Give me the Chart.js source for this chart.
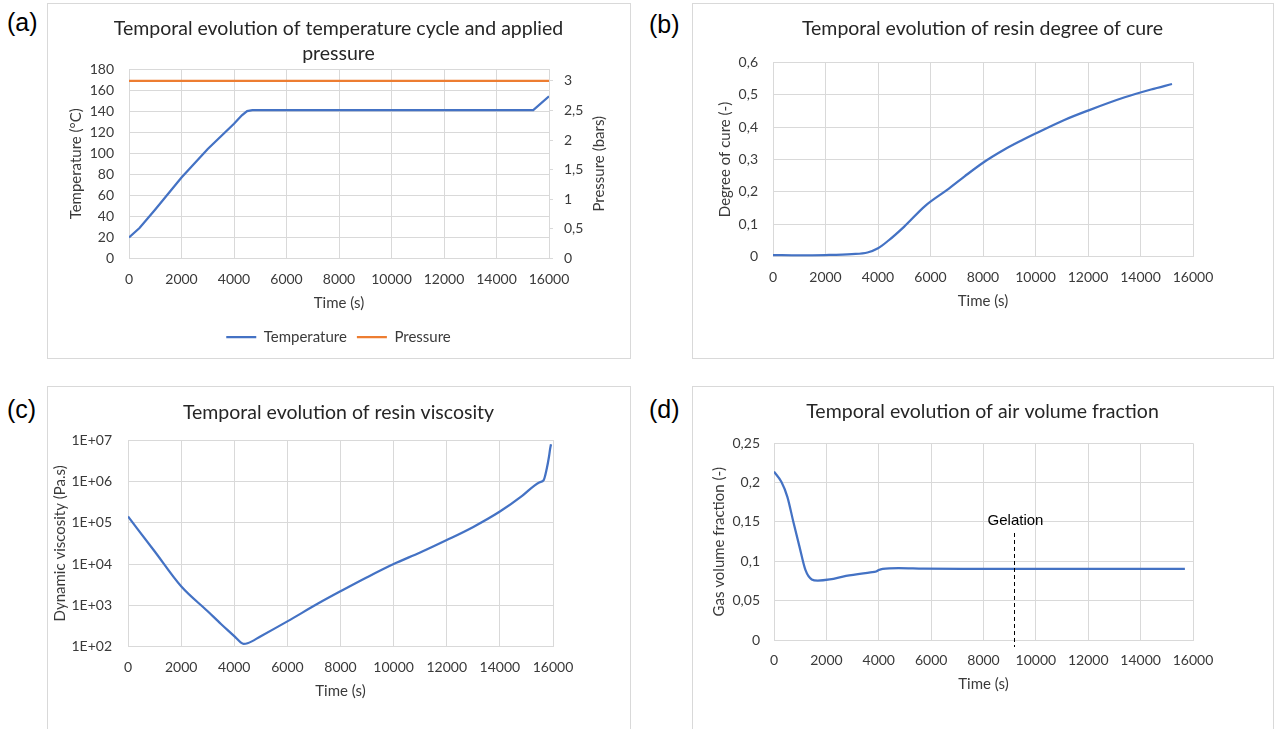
<!DOCTYPE html>
<html>
<head>
<meta charset="utf-8">
<script src="https://cdn.jsdelivr.net/npm/chart.js@4.4.0/dist/chart.umd.min.js"></script>
<style>
    body { margin: 0; width: 1274px; height: 729px; background: #fff; position: relative; overflow: hidden; }
    .frame { position: absolute; border: 1px solid #d9d9d9; box-sizing: border-box; }
    .box { position: absolute; }
    .tag { position: absolute; font: 25px "Liberation Sans", Arial, sans-serif; line-height: 25px; color: #000; }
</style>
</head>
<body>
<div class="frame" style="left:47px;top:3px;width:584px;height:356px"></div>
<div class="frame" style="left:692px;top:3px;width:582px;height:356px"></div>
<div class="frame" style="left:47px;top:386px;width:584px;height:400px"></div>
<div class="frame" style="left:692px;top:386px;width:582px;height:400px"></div>

<div class="tag" style="left:7px;top:10px">(a)</div>
<div class="tag" style="left:649px;top:12px">(b)</div>
<div class="tag" style="left:7px;top:397px">(c)</div>
<div class="tag" style="left:649px;top:397px">(d)</div>

<div class="box" style="left:47px;top:3px;width:583px;height:355px"><canvas id="chartA"></canvas></div>
<div class="box" style="left:692px;top:3px;width:581px;height:355px"><canvas id="chartB"></canvas></div>
<div class="box" style="left:47px;top:386px;width:583px;height:343px"><canvas id="chartC"></canvas></div>
<div class="box" style="left:692px;top:386px;width:581px;height:343px"><canvas id="chartD"></canvas></div>

<script>
// (a) temperature cycle and pressure
const timeTemp = [0, 400, 1000, 2000, 3000, 4000, 4300, 4500, 4700, 15400, 16000];
const temperature = [20, 29, 46.5, 77, 104, 128, 136, 140, 141, 141, 154];
const timePressure = [0, 16000];
const pressure = [3, 3];

// (b) degree of cure
const timeCure = [0, 1000, 2000, 3000, 3600, 4000, 4400, 5000, 5800, 6700, 7300, 8000, 8800, 9500, 10000, 11100, 12000, 13400, 14400, 15200];
const cure = [0.005, 0.004, 0.005, 0.008, 0.013, 0.026, 0.05, 0.093, 0.157, 0.21, 0.248, 0.29, 0.33, 0.36, 0.38, 0.422, 0.451, 0.492, 0.516, 0.533];

// (c) viscosity
const timeVisc = [0, 1000, 2000, 3000, 3500, 4000, 4250, 4350, 4500, 5000, 6000, 7170, 8000, 9000, 10000, 11000, 12000, 13000, 14000, 14850, 15300, 15500, 15650, 15760, 15850, 15890, 15925];
const viscosity = [1.41e5, 2.04e4, 2.9e3, 720, 355, 180, 126, 117, 121, 180, 410, 1120, 2190, 4790, 1.0e4, 1.9e4, 3.8e4, 7.9e4, 1.86e5, 4.5e5, 7.9e5, 9.5e5, 1.07e6, 1.95e6, 4.0e6, 6.0e6, 7.9e6];
const viscosityTicks = [1e2, 1e3, 1e4, 1e5, 1e6, 1e7];

// (d) gas volume fraction
const timeGas = [0, 280, 510, 740, 970, 1200, 1440, 1670, 2130, 2750, 3680, 3900, 4000, 4150, 4760, 5700, 7200, 15690];
const gasFraction = [0.214, 0.201, 0.182, 0.150, 0.119, 0.089, 0.077, 0.0755, 0.077, 0.0815, 0.086, 0.087, 0.089, 0.0905, 0.0915, 0.0907, 0.0903, 0.0903];
const gelationTime = 9170;
const gelationTop = 0.136;

Chart.defaults.font.family = 'Lato, "Open Sans", sans-serif';
Chart.defaults.font.size = 14;
Chart.defaults.color = '#3a3a3a';
Chart.defaults.animation = false;

const BLUE = '#4472C4';
const ORANGE = '#ED7D31';
const GRID = '#d9d9d9';

function toPoints(xs, ys) {
    return xs.map((x, i) => ({ x: x, y: ys[i] }));
}

function commaLabel(v) {
    return String(Number(v.toFixed(2))).replace('.', ',');
}

function expLabel(v) {
    return '1E+' + String(Math.round(Math.log10(v))).padStart(2, '0');
}

function chartTitle(text, padTop, padBottom) {
    return {
        display: true,
        text: text,
        color: '#262626',
        font: { size: 19.5, weight: 'normal', lineHeight: 25 / 19.5 },
        padding: { top: padTop, bottom: padBottom }
    };
}

function timeAxis(height, tickPad, titlePad) {
    return {
        type: 'linear',
        min: 0,
        max: 16000,
        grid: { color: GRID, drawTicks: false },
        border: { color: GRID },
        ticks: { stepSize: 2000, padding: tickPad, maxRotation: 0, autoSkip: false, callback: v => String(v) },
        title: { display: true, text: 'Time (s)', font: { size: 15 }, padding: { top: 0, bottom: titlePad } },
        afterFit: scale => { scale.height = height; }
    };
}

function valueAxis(extra, width, text, titlePad) {
    return Object.assign({
        grid: { color: GRID, drawTicks: false },
        border: { display: false },
        title: { display: true, text: text, font: { size: 15 }, padding: { top: titlePad, bottom: 0 } },
        afterFit: scale => { scale.width = width; }
    }, extra);
}

// empty right-hand strip so the title stays centred on the whole panel
function spacerAxis(width) {
    return {
        position: 'right',
        display: true,
        ticks: { display: false },
        grid: { display: false },
        border: { display: false },
        afterFit: scale => { scale.width = width; }
    };
}

function blueLine(label, points, smooth) {
    return {
        label: label,
        data: points,
        borderColor: BLUE,
        backgroundColor: BLUE,
        borderWidth: 2.25,
        pointRadius: 0,
        tension: 0,
        cubicInterpolationMode: smooth ? 'monotone' : 'default'
    };
}

// right axis title reads bottom-to-top like the left one
const pressureTitle = {
    id: 'pressureTitle',
    afterDraw(chart) {
        const { ctx, chartArea } = chart;
        const axis = chart.scales.y1;
        ctx.save();
        ctx.translate(axis.left + 50, (chartArea.top + chartArea.bottom) / 2);
        ctx.rotate(-Math.PI / 2);
        ctx.font = '15px Lato, "Open Sans", sans-serif';
        ctx.fillStyle = '#3a3a3a';
        ctx.textAlign = 'center';
        ctx.textBaseline = 'middle';
        ctx.fillText('Pressure (bars)', 0, 0);
        ctx.restore();
    }
};

const gelationMarker = {
    id: 'gelationMarker',
    afterDatasetsDraw(chart) {
        const { ctx } = chart;
        const x = chart.scales.x;
        const y = chart.scales.y;
        const px = Math.round(x.getPixelForValue(gelationTime)) + 0.5;
        const top = y.getPixelForValue(gelationTop);
        ctx.save();
        ctx.strokeStyle = '#000';
        ctx.lineWidth = 1;
        ctx.setLineDash([4, 3]);
        ctx.beginPath();
        ctx.moveTo(px, top);
        ctx.lineTo(px, y.bottom + 7);
        ctx.stroke();
        ctx.setLineDash([]);
        ctx.font = '15px "Liberation Sans", Arial, sans-serif';
        ctx.fillStyle = '#000';
        ctx.textAlign = 'center';
        ctx.textBaseline = 'middle';
        ctx.fillText('Gelation', px + 1, top - 12.5);
        ctx.restore();
    }
};

new Chart(document.getElementById('chartA'), {
    type: 'line',
    data: {
        datasets: [
            Object.assign(blueLine('Temperature', toPoints(timeTemp, temperature), false), { yAxisID: 'y' }),
            {
                label: 'Pressure',
                data: toPoints(timePressure, pressure),
                borderColor: ORANGE,
                backgroundColor: ORANGE,
                borderWidth: 2.25,
                pointRadius: 0,
                yAxisID: 'y1'
            }
        ]
    },
    options: {
        responsive: true,
        maintainAspectRatio: false,
        layout: { padding: { left: 0, right: 0, top: 0, bottom: 3.5 } },
        plugins: {
            title: chartTitle(['Temporal evolution of temperature cycle and applied', 'pressure'], 13.5, 2.5),
            legend: {
                position: 'bottom',
                labels: { boxWidth: 30, boxHeight: 0, padding: 10, font: { size: 15 } }
            },
            tooltip: { enabled: false }
        },
        scales: {
            x: timeAxis(61, 12.1, 7.5),
            y: valueAxis({ min: 0, max: 180, ticks: { stepSize: 20, padding: 15 } }, 82, 'Temperature (°C)', 20),
            y1: {
                position: 'right',
                min: 0,
                max: 3.2,
                grid: { drawOnChartArea: false, color: GRID, tickLength: 4 },
                border: { color: GRID },
                ticks: { stepSize: 0.5, includeBounds: false, padding: 11, callback: commaLabel },
                afterFit: scale => { scale.width = 81; }
            }
        }
    },
    plugins: [pressureTitle]
});

new Chart(document.getElementById('chartB'), {
    type: 'line',
    data: { datasets: [blueLine('Degree of cure', toPoints(timeCure, cure), true)] },
    options: {
        responsive: true,
        maintainAspectRatio: false,
        layout: { padding: { left: 0, right: 0, top: 0, bottom: 41.3 } },
        plugins: {
            title: chartTitle('Temporal evolution of resin degree of cure', 13.5, 20.8),
            legend: { display: false },
            tooltip: { enabled: false }
        },
        scales: {
            x: timeAxis(60, 11.9, 6.7),
            y: valueAxis({ min: 0, max: 0.6, ticks: { stepSize: 0.1, padding: 15, callback: commaLabel } }, 81, 'Degree of cure (-)', 24),
            yr: spacerAxis(80)
        }
    }
});

new Chart(document.getElementById('chartC'), {
    type: 'line',
    data: { datasets: [blueLine('Viscosity', toPoints(timeVisc, viscosity), true)] },
    options: {
        responsive: true,
        maintainAspectRatio: false,
        layout: { padding: { left: 0, right: 0, top: 0, bottom: 22.3 } },
        plugins: {
            title: chartTitle('Temporal evolution of resin viscosity', 14.5, 14.5),
            legend: { display: false },
            tooltip: { enabled: false }
        },
        scales: {
            x: timeAxis(60, 11.9, 6.7),
            y: valueAxis({
                type: 'logarithmic',
                min: 1e2,
                max: 1e7,
                afterBuildTicks: scale => { scale.ticks = viscosityTicks.map(v => ({ value: v })); },
                ticks: { padding: 16, autoSkip: false, callback: expLabel }
            }, 81, 'Dynamic viscosity (Pa.s)', 4),
            yr: spacerAxis(77)
        }
    }
});

new Chart(document.getElementById('chartD'), {
    type: 'line',
    data: { datasets: [blueLine('Gas volume fraction', toPoints(timeGas, gasFraction), true)] },
    options: {
        responsive: true,
        maintainAspectRatio: false,
        layout: { padding: { left: 0, right: 0, top: 0, bottom: 29 } },
        plugins: {
            title: chartTitle('Temporal evolution of air volume fraction', 13.5, 18.8),
            legend: { display: false },
            tooltip: { enabled: false }
        },
        scales: {
            x: timeAxis(60, 12.3, 7),
            y: valueAxis({ min: 0, max: 0.25, ticks: { stepSize: 0.05, padding: 14, callback: commaLabel } }, 82, 'Gas volume fraction (-)', 18),
            yr: spacerAxis(80)
        }
    },
    plugins: [gelationMarker]
});
</script>
</body>
</html>
